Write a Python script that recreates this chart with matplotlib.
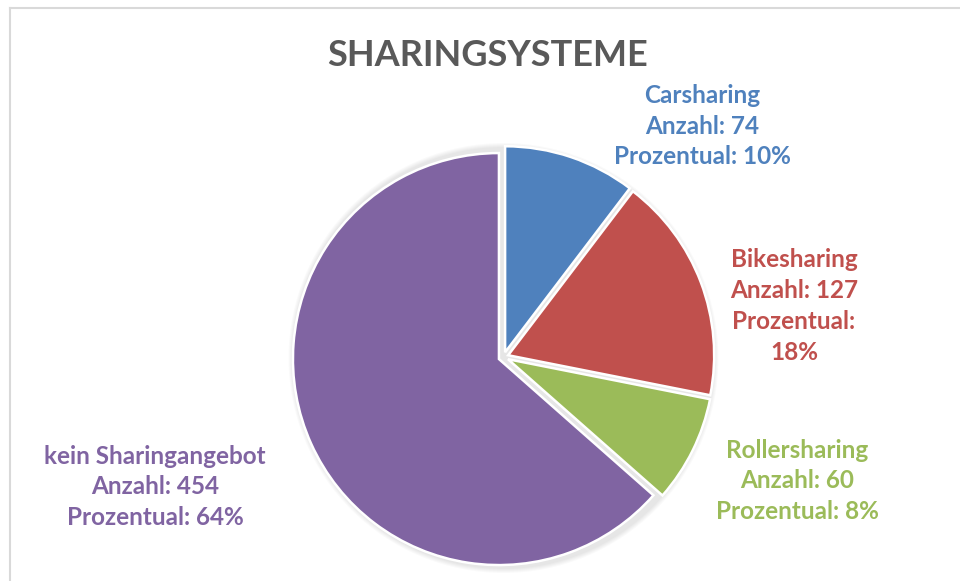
import matplotlib.pyplot as plt
from matplotlib.lines import Line2D
from matplotlib.patches import Circle

categories = ['Carsharing', 'Bikesharing', 'Rollersharing', 'kein Sharingangebot']
counts = [74, 127, 60, 454]
percents = [10, 18, 8, 64]
colors = ['#4F81BD', '#C0504D', '#9BBB59', '#8064A2']

W, H = 960, 581
fig = plt.figure(figsize=(W / 100, H / 100), dpi=100)
fig.patch.set_facecolor('white')

# chart border (cut off at right and bottom like the screenshot)
fig.add_artist(Line2D([10 / W, 10 / W], [0, 1 - 8 / H], color='#d9d9d9', lw=1.5))
fig.add_artist(Line2D([10 / W, 1], [1 - 8 / H, 1 - 8 / H], color='#d9d9d9', lw=1.5))

ax = fig.add_axes([0, 0, 1, 1])

cx, cy, r = 503.5, H - 357, 206

# soft shadow around the pie
for k in range(1, 6):
    ax.add_patch(Circle((cx, cy - 1), r + 4 + k, color='black', alpha=0.02, lw=0, zorder=0))

ax.pie(counts, colors=colors, startangle=90, counterclock=False,
       center=(cx, cy), radius=r, explode=[5] * 4,
       wedgeprops=dict(edgecolor='white', linewidth=1.8, zorder=2), frame=True)
ax.set_xlim(0, W)
ax.set_ylim(0, H)
ax.set_aspect('equal')
ax.axis('off')

plt.rcParams['font.family'] = ['Lato', 'DejaVu Sans']

ax.text(488, H - 55, 'SHARINGSYSTEME', ha='center', va='center',
        fontsize=26, fontweight='bold', color='#595959')

label_pos = [(702, 126), (794, 306), (797, 481), (155, 487)]
for name, n, pct, col, (lx, ly) in zip(categories, counts, percents, colors, label_pos):
    sep = '\n' if name == 'Bikesharing' else ' '
    txt = f'{name}\nAnzahl: {n}\nProzentual:{sep}{pct}%'
    ax.text(lx, H - ly, txt, ha='center', va='center', fontsize=17.5,
            fontweight='bold', color=col, linespacing=1.42)

fig.savefig('out.png', dpi=100)
